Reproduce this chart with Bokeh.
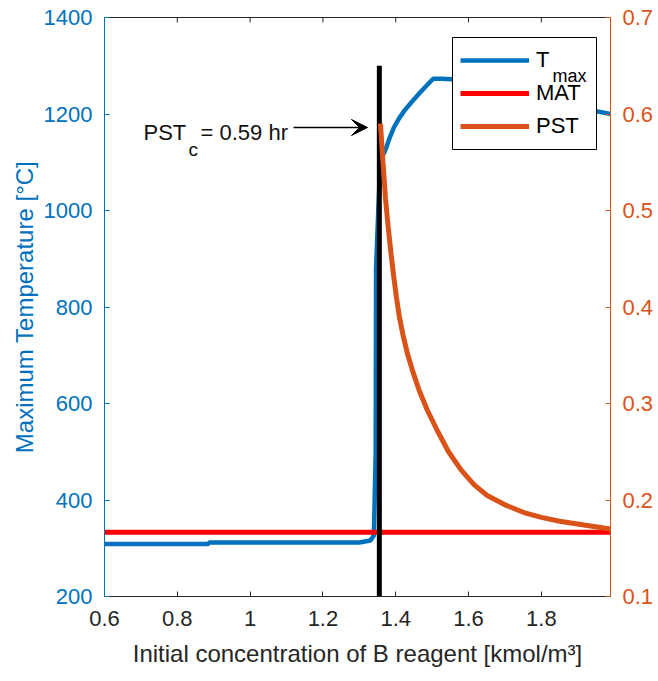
from bokeh.plotting import figure
from bokeh.models import (Range1d, LinearAxis, FixedTicker, Legend, LegendItem,
                          Label, Arrow, VeeHead)
from bokeh.core.properties import value
from bokeh.embed import file_html
from bokeh.resources import INLINE

# ---------------- data ----------------
tmax_x = [0.6, 0.886, 0.887, 1.30, 1.33, 1.340, 1.345, 1.346, 1.352, 1.358, 1.365,
          1.372, 1.383, 1.395, 1.41, 1.425, 1.445, 1.465, 1.485, 1.503, 1.525, 1.555,
          1.60, 1.70, 1.80, 1.90, 1.95, 1.99]
tmax_y = [309, 309, 312, 312, 316, 326, 500, 880, 1000, 1100, 1115,
          1126, 1150, 1172, 1192, 1208, 1226, 1243, 1259, 1273, 1273, 1272,
          1265, 1248, 1230, 1214, 1206, 1200]

mat_x = [0.6, 1.99]
mat_y = [333, 333]

pst_x = [1.358, 1.365, 1.372, 1.379, 1.386, 1.394, 1.402, 1.410, 1.420, 1.432,
         1.447, 1.465, 1.487, 1.514, 1.545, 1.58, 1.615, 1.65, 1.70, 1.752, 1.80,
         1.85, 1.917, 1.99]
pst_y = [0.590, 0.550, 0.512, 0.484, 0.459, 0.433, 0.410, 0.390, 0.371, 0.352,
         0.333, 0.313, 0.293, 0.272, 0.250, 0.231, 0.216, 0.205, 0.195, 0.187,
         0.182, 0.178, 0.174, 0.170]

crit_x = [1.355, 1.355]
crit_y = [200, 1300]

x_ticks = [0.6, 0.8, 1.0, 1.2, 1.4, 1.6, 1.8]
x_tick_labels = ["0.6", "0.8", "1", "1.2", "1.4", "1.6", "1.8"]
left_ticks = [200, 400, 600, 800, 1000, 1200, 1400]
left_tick_labels = ["200", "400", "600", "800", "1000", "1200", "1400"]
right_ticks = [0.1, 0.2, 0.3, 0.4, 0.5, 0.6, 0.7]
right_tick_labels = ["0.1", "0.2", "0.3", "0.4", "0.5", "0.6", "0.7"]

# ---------------- style ----------------
FONT = "Liberation Sans"
BLUE = "#0072BD"
ORANGE = "#D95319"
RED = "#FF0000"
DARK = "#262626"

W, H = 658, 681
ML, MR, MT, MB = 104, 48, 17, 85
FW, FH = W - ML - MR, H - MT - MB
X0, X1 = 0.6, 1.99
Y0, Y1 = 200, 1400


def px_x(px):
    return X0 + px * (X1 - X0) / FW


def px_y(px_from_top):
    return Y1 - px_from_top * (Y1 - Y0) / FH


p = figure(width=W, height=H, x_range=Range1d(X0, X1), y_range=Range1d(Y0, Y1),
           output_backend="svg", toolbar_location=None,
           min_border_left=ML, min_border_right=MR, min_border_top=MT,
           min_border_bottom=MB)
p.extra_y_ranges = {"pst": Range1d(0.1, 0.7)}
p.outline_line_color = DARK
p.outline_line_width = 1
p.xgrid.visible = False
p.ygrid.visible = False
p.background_fill_color = "white"
p.border_fill_color = "white"


def style_axis(ax, color, label_color, ticks, labels):
    ax.ticker = FixedTicker(ticks=ticks)
    ax.major_label_overrides = {t: l for t, l in zip(ticks, labels)}
    ax.axis_line_color = color
    ax.axis_line_width = 1
    ax.major_tick_line_color = color
    ax.major_tick_in = 5
    ax.major_tick_out = 0
    ax.minor_tick_line_color = None
    ax.major_label_text_color = label_color
    ax.major_label_text_font = FONT
    ax.major_label_text_font_size = "22px"
    ax.axis_label_text_font = FONT
    ax.axis_label_text_font_size = "24px"
    ax.axis_label_text_font_style = "normal"
    ax.axis_label_text_color = label_color


xb = p.xaxis[0]
style_axis(xb, DARK, DARK, x_ticks, x_tick_labels)
xb.axis_label = "Initial concentration of B reagent [kmol/m³]"
xb.major_label_standoff = 14
xb.axis_label_standoff = 11

yl = p.yaxis[0]
style_axis(yl, BLUE, BLUE, left_ticks, left_tick_labels)
yl.axis_label = "Maximum Temperature [°C]"
yl.major_label_standoff = 12
yl.axis_label_standoff = 3

yr = LinearAxis(y_range_name="pst")
style_axis(yr, ORANGE, ORANGE, right_ticks, right_tick_labels)
yr.major_label_standoff = 12
p.add_layout(yr, "right")

# inward tick marks along the top edge of the box (at the x tick positions)
top_tick_len = Y1 - px_y(5)
p.segment(x0=x_ticks, y0=[Y1] * len(x_ticks), x1=x_ticks,
          y1=[Y1 - top_tick_len] * len(x_ticks), line_color=DARK, line_width=1)

# ---------------- lines ----------------
r_t = p.line(tmax_x, tmax_y, line_color=BLUE, line_width=4.5)
r_m = p.line(mat_x, mat_y, line_color=RED, line_width=5)
r_c = p.line(crit_x, crit_y, line_color="black", line_width=5)
r_p = p.line(pst_x, pst_y, line_color=ORANGE, line_width=5, y_range_name="pst")

# ---------------- legend ----------------
LEG_LEFT, LEG_TOP = 348, 20
PAD, GW, GH, STAND, SPACE, LW = 8, 69, 30, 7, 3, 52
leg_h = 2 * PAD + 3 * GH + 2 * SPACE
leg_w = 2 * PAD + GW + STAND + LW

# white legend box (drawn over the curves, under the legend entries)
p.quad(left=[px_x(LEG_LEFT)], right=[px_x(LEG_LEFT + leg_w)],
       top=[px_y(LEG_TOP)], bottom=[px_y(LEG_TOP + leg_h)],
       fill_color="white", line_color="black", line_width=1)
# subscript "max" of the T entry
p.text(x=[px_x(LEG_LEFT + PAD + GW + STAND + 16)],
       y=[px_y(LEG_TOP + PAD + GH / 2 + 15)], text=["max"],
       text_font=value(FONT), text_font_size="18px", text_color="black",
       text_baseline="alphabetic", text_align="left")

# entries (no border -> Bokeh drops the padding, so offset the location by it)
legend = Legend(items=[LegendItem(label="T", renderers=[r_t]),
                       LegendItem(label="MAT", renderers=[r_m]),
                       LegendItem(label="PST", renderers=[r_p])],
                location=(LEG_LEFT + PAD, FH - LEG_TOP - leg_h + PAD),
                glyph_width=GW, glyph_height=GH, label_height=GH, label_width=LW,
                label_standoff=STAND, padding=0, spacing=SPACE, margin=0,
                border_line_color=None, background_fill_alpha=0,
                label_text_font=FONT, label_text_font_size="22px",
                label_text_color="black")
p.add_layout(legend)

# ---------------- annotation ----------------
ann_x_px, ann_base_px = 39, 115
p.add_layout(Label(x=px_x(ann_x_px), y=px_y(ann_base_px), text="PST",
                   text_font=FONT, text_font_size="22px", text_color="#111111",
                   text_baseline="alphabetic"))
p.add_layout(Label(x=px_x(ann_x_px + 45), y=px_y(ann_base_px + 17), text="c",
                   text_font=FONT, text_font_size="19px", text_color="#111111",
                   text_baseline="alphabetic"))
p.add_layout(Label(x=px_x(ann_x_px + 57), y=px_y(ann_base_px), text="= 0.59 hr",
                   text_font=FONT, text_font_size="22px", text_color="#111111",
                   text_baseline="alphabetic"))
arrow_y = px_y(110)
p.add_layout(Arrow(end=VeeHead(size=16, fill_color="black", line_color="black"),
                   x_start=px_x(189), y_start=arrow_y, x_end=px_x(263), y_end=arrow_y,
                   line_color="black", line_width=1.5))

open("out.html", "w").write(file_html(p, INLINE))
